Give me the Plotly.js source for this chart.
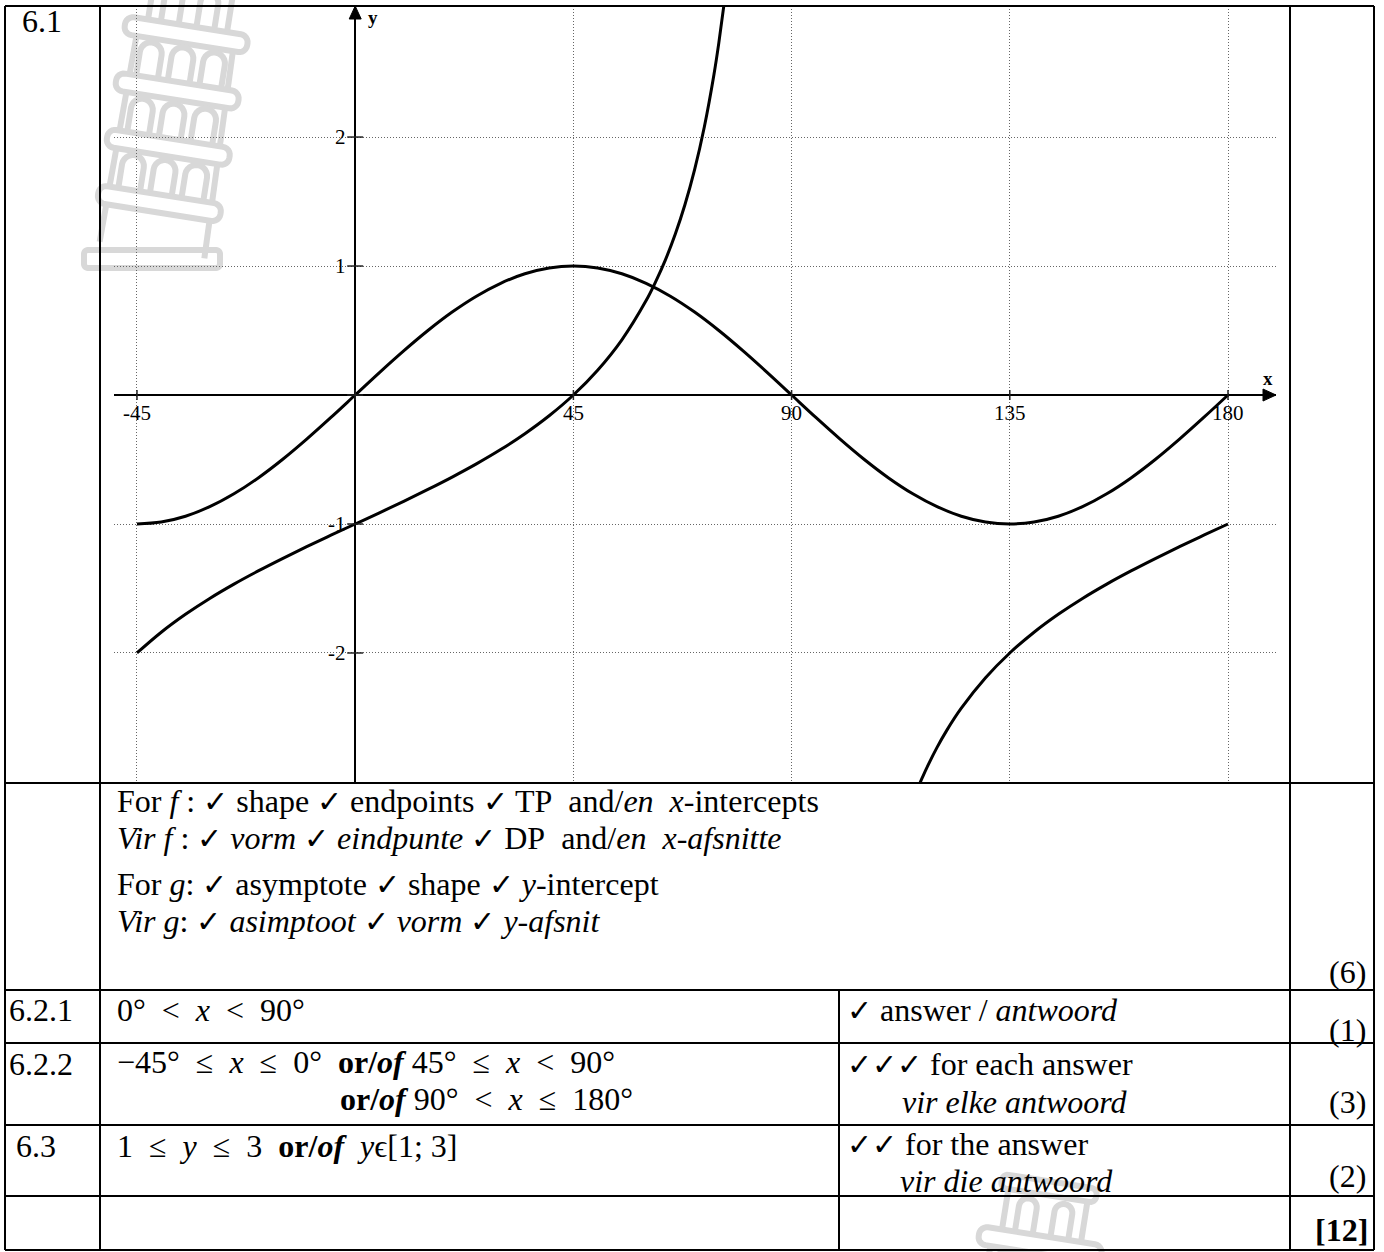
<!DOCTYPE html>
<html>
<head>
<meta charset="utf-8">
<script src="https://cdn.plot.ly/plotly-3.0.1.min.js"></script>
<style>html,body{margin:0;padding:0;background:#fff;}</style>
</head>
<body>
<div id="chart" style="width:1384px;height:1252px;"></div>
<script>
// f(x) = sin 2x, read every 5 degrees on [-45; 180]
const fX = [-45,-40,-35,-30,-25,-20,-15,-10,-5,0,5,10,15,20,25,30,35,40,45,50,55,60,65,70,75,80,85,90,95,100,105,110,115,120,125,130,135,140,145,150,155,160,165,170,175,180];
const fY = [-1,-0.985,-0.940,-0.866,-0.766,-0.643,-0.5,-0.342,-0.174,0,0.174,0.342,0.5,0.643,0.766,0.866,0.940,0.985,1,0.985,0.940,0.866,0.766,0.643,0.5,0.342,0.174,0,-0.174,-0.342,-0.5,-0.643,-0.766,-0.866,-0.940,-0.985,-1,-0.985,-0.940,-0.866,-0.766,-0.643,-0.5,-0.342,-0.174,0];

// g(x) = tan x − 1, branch left of the asymptote x = 90
const gLeftX = [-45,-40,-35,-30,-25,-20,-15,-10,-5,0,5,10,15,20,25,30,35,40,45,50,55,60,62,64,66,68,70,72,74,75,76,77];
const gLeftY = [-2,-1.839,-1.700,-1.577,-1.466,-1.364,-1.268,-1.176,-1.087,-1,-0.913,-0.824,-0.732,-0.636,-0.534,-0.423,-0.300,-0.161,0,0.192,0.428,0.732,0.881,1.050,1.246,1.475,1.747,2.078,2.487,2.732,3.011,3.331];
// branch right of the asymptote
const gRightX = [115,116,117,118,120,122,125,130,135,140,145,150,155,160,165,170,175,180];
const gRightY = [-3.145,-3.050,-2.963,-2.881,-2.732,-2.600,-2.428,-2.192,-2,-1.839,-1.700,-1.577,-1.466,-1.364,-1.268,-1.176,-1.087,-1];

// axis ticks and their labels
const xTicks = [-45,0,45,90,135,180];
const xTickLabels = ['-45','45','90','135','180'];
const xLabelAt = [-45,45,90,135,180];
const yTicks = [-2,-1,0,1,2];
const yTickLabels = ['-2','-1','1','2'];
const yLabelAt = [-2,-1,1,2];

// page geometry in pixels
const W = 1384, H = 1252;
const px = v => v / W;
const py = v => 1 - v / H;

const SERIF = 'Liberation Serif, Times New Roman, serif';
const TXT = 32;

const curve = {color: '#000', width: 3, shape: 'spline', smoothing: 1};
const traces = [
  {x: fX, y: fY, mode: 'lines', line: curve, hoverinfo: 'skip'},
  {x: gLeftX, y: gLeftY, mode: 'lines', line: curve, hoverinfo: 'skip'},
  {x: gRightX, y: gRightY, mode: 'lines', line: curve, hoverinfo: 'skip'}
];

const xRange = [-49.74, 189.9];
const yRange = [-3.008, 3.016];

const shapes = [];
const annotations = [];

// ---- watermark: leaning tower outline ----
const WM = '#d8d8d8';
function pathOf(pts, closed) {
  let d = '';
  pts.forEach((p, i) => { d += (i ? ' L' : 'M') + px(p[0]).toFixed(5) + ',' + py(p[1]).toFixed(5); });
  return d + (closed ? ' Z' : '');
}
function roundRect(T, cx, cy, hw, hh, r) {
  const pts = [];
  const corners = [[cx + hw - r, cy + hh - r, 0], [cx - hw + r, cy + hh - r, 90], [cx - hw + r, cy - hh + r, 180], [cx + hw - r, cy - hh + r, 270]];
  corners.forEach(c => {
    for (let k = 0; k <= 6; k++) {
      const a = (c[2] + k * 15) * Math.PI / 180;
      pts.push(T(c[0] + r * Math.cos(a), c[1] + r * Math.sin(a)));
    }
  });
  return pts;
}
function tower(ox, oy, ang) {
  const c = Math.cos(ang * Math.PI / 180), s = Math.sin(ang * Math.PI / 180);
  // local frame: x right, y up from the foot of the body
  const T = (lx, ly) => [ox + lx * c + ly * s, oy + lx * s - ly * c];
  const U = (lx, ly) => [ox + lx, oy - ly];
  const st = {color: WM, width: 6};
  const add = (pts, closed) => shapes.push({type: 'path', xref: 'paper', yref: 'paper', layer: 'below', path: pathOf(pts, closed), line: st});
  // base plate
  add(roundRect(U, 0, -9, 68, 9, 4), true);
  const bands = [47, 104, 161, 218];
  const bh = 9;
  bands.forEach(b => add(roundRect(T, 0, b, 62, bh, 8), true));
  // body sides between bands
  const sideAt = y => 53 - y * 0.02;
  let prev = 0;
  bands.forEach(b => {
    add([T(-sideAt(prev), prev), T(-sideAt(b - bh), b - bh)], false);
    add([T(sideAt(prev), prev), T(sideAt(b - bh), b - bh)], false);
    prev = b + bh;
  });
  // arcade tiers
  for (let i = 0; i < 3; i++) {
    const y0 = bands[i] + bh + 2, y1 = bands[i + 1] - bh - 4;
    [-32, 0, 32].forEach(cx => {
      const r = 11, pts = [T(cx - r, y0)];
      for (let k = 0; k <= 12; k++) {
        const a = Math.PI - k * Math.PI / 12;
        pts.push(T(cx + r * Math.cos(a), y1 - r + r * Math.sin(a)));
      }
      pts.push(T(cx + r, y0));
      add(pts, false);
    });
  }
  // belfry on top
  const yb0 = 218 + bh, yb1 = 268;
  add([T(-40, yb0), T(-40, yb1)], false);
  add([T(40, yb0), T(40, yb1)], false);
  [-18, 18].forEach(cx => {
    const r = 9, pts = [T(cx - r, yb0 + 2)];
    for (let k = 0; k <= 12; k++) {
      const a = Math.PI - k * Math.PI / 12;
      pts.push(T(cx + r * Math.cos(a), yb1 - 6 - r + r * Math.sin(a)));
    }
    pts.push(T(cx + r, yb0 + 2));
    add(pts, false);
  });
  add(roundRect(T, 0, yb1 + 7, 48, 7, 6), true);
}
tower(152, 250, 9);
tower(1006, 1460, 9);

// ---- table rules ----
const rule = (x0, y0, x1, y1) => shapes.push({type: 'line', xref: 'paper', yref: 'paper', x0: px(x0), y0: py(y0), x1: px(x1), y1: py(y1), line: {color: '#000', width: 2}});
rule(5, 6, 1374, 6);
rule(5, 1250, 1374, 1250);
rule(5, 6, 5, 1250);
rule(1374, 6, 1374, 1250);
rule(100, 6, 100, 1250);
rule(1290, 6, 1290, 1250);
rule(839, 990, 839, 1250);
[783, 990, 1043, 1125, 1196].forEach(y => rule(5, y, 1374, y));

// ---- axis tick marks and arrowheads ----
xTicks.forEach(v => shapes.push({type: 'line', xref: 'x', yref: 'y', ysizemode: 'pixel', yanchor: 0, x0: v, x1: v, y0: -5, y1: 5, line: {color: '#222', width: 1.5}}));
yTicks.forEach(v => shapes.push({type: 'line', xref: 'x', yref: 'y', xsizemode: 'pixel', xanchor: 0, y0: v, y1: v, x0: -8, x1: 8, line: {color: '#222', width: 1.5}}));
shapes.push({type: 'path', xref: 'x', yref: 'y', xsizemode: 'pixel', ysizemode: 'pixel', xanchor: 0, yanchor: yRange[1], path: 'M0,0 L-6,-13 L6,-13 Z', fillcolor: '#000', line: {color: '#000', width: 1}});
shapes.push({type: 'path', xref: 'x', yref: 'y', xsizemode: 'pixel', ysizemode: 'pixel', xanchor: xRange[1], yanchor: 0, path: 'M0,0 L-13,6 L-13,-6 Z', fillcolor: '#000', line: {color: '#000', width: 1}});

// ---- axis labels ----
const tickFont = {family: SERIF, size: 21, color: '#000'};
xLabelAt.forEach((v, i) => annotations.push({x: v, y: 0, xref: 'x', yref: 'y', yshift: -18, text: xTickLabels[i], showarrow: false, xanchor: 'center', yanchor: 'middle', font: tickFont}));
yLabelAt.forEach((v, i) => annotations.push({x: 0, y: v, xref: 'x', yref: 'y', xshift: -7, text: yTickLabels[i], showarrow: false, xanchor: 'right', yanchor: 'middle', font: tickFont}));
annotations.push({x: px(373), y: py(17), xref: 'paper', yref: 'paper', text: '<b>y</b>', showarrow: false, xanchor: 'center', yanchor: 'middle', font: {family: SERIF, size: 19, color: '#000'}});
annotations.push({x: px(1268), y: py(378), xref: 'paper', yref: 'paper', text: '<b>x</b>', showarrow: false, xanchor: 'center', yanchor: 'middle', font: {family: SERIF, size: 19, color: '#000'}});

// ---- table text ----
const sp = '\u00a0';
const pad = n => sp.repeat(n);
const t = (x, y, text, anchor) => annotations.push({x: px(x), y: py(y), xref: 'paper', yref: 'paper', text: text, showarrow: false,
  xanchor: anchor || 'left', yanchor: 'middle', align: 'left', font: {family: SERIF, size: TXT, color: '#000'}});
const ck = '<span style="font-size:30px">\u2713</span>';
const orof = '<b>or/<i>of</i></b>';
// relation symbols with math-style spacing
const rel = r => sp + ' ' + r + ' ' + sp;

t(20, 21, '6.1');
t(115, 801, 'For <i>f</i>' + sp + ': ' + ck + ' shape ' + ck + ' endpoints ' + ck + ' TP' + pad(2) + 'and/<i>en</i>' + pad(2) + '<i>x</i>-intercepts');
t(115, 838, '<i>Vir f</i>' + sp + ': ' + ck + ' <i>vorm</i> ' + ck + ' <i>eindpunte</i> ' + ck + ' DP' + pad(2) + 'and/<i>en</i>' + pad(2) + '<i>x-afsnitte</i>');
t(115, 884, 'For <i>g</i>: ' + ck + ' asymptote ' + ck + ' shape ' + ck + ' <i>y</i>-intercept');
t(115, 921, '<i>Vir g</i>: ' + ck + ' <i>asimptoot</i> ' + ck + ' <i>vorm</i> ' + ck + ' <i>y-afsnit</i>');
t(1368, 972, '(6)', 'right');

t(7, 1010, '6.2.1');
t(115, 1010, '0°' + rel('<') + '<i>x</i>' + rel('<') + '90°');
t(845, 1010, ck + ' answer / <i>antwoord</i>');
t(1368, 1030, '(1)', 'right');

t(7, 1064, '6.2.2');
t(115, 1062, '−45°' + rel('≤') + '<i>x</i>' + rel('≤') + '0°' + pad(2) + orof + sp + '45°' + rel('≤') + '<i>x</i>' + rel('<') + '90°');
t(338, 1099, orof + sp + '90°' + rel('<') + '<i>x</i>' + rel('≤') + '180°');
t(845, 1064, ck + ck + ck + ' for each answer');
t(900, 1102, '<i>vir elke antwoord</i>');
t(1368, 1102, '(3)', 'right');

t(14, 1146, '6.3');
t(115, 1146, '1' + rel('≤') + '<i>y</i>' + rel('≤') + '3' + pad(2) + orof + pad(2) + '<i>y</i>ϵ[1; 3]');
t(845, 1144, ck + ck + ' for the answer');
t(898, 1181, '<i>vir die antwoord</i>');
t(1368, 1176, '(2)', 'right');
t(1370, 1230, '<b>[12]</b>', 'right');

const grid = {showgrid: true, gridcolor: '#666', griddash: '1px,2px', gridwidth: 1,
              zeroline: true, zerolinecolor: '#000', zerolinewidth: 2, showline: false,
              showticklabels: false, ticks: '', fixedrange: true};
const layout = {
  width: W, height: H,
  margin: {l: 0, r: 0, t: 0, b: 0, pad: 0},
  paper_bgcolor: '#fff', plot_bgcolor: 'rgba(0,0,0,0)',
  showlegend: false,
  xaxis: Object.assign({domain: [px(114), px(1276)], range: xRange, tickvals: xTicks}, grid),
  yaxis: Object.assign({domain: [py(783), py(6)], range: yRange, tickvals: yTicks}, grid),
  shapes: shapes,
  annotations: annotations
};

Plotly.newPlot('chart', traces, layout, {displayModeBar: false, staticPlot: true});
</script>
</body>
</html>
